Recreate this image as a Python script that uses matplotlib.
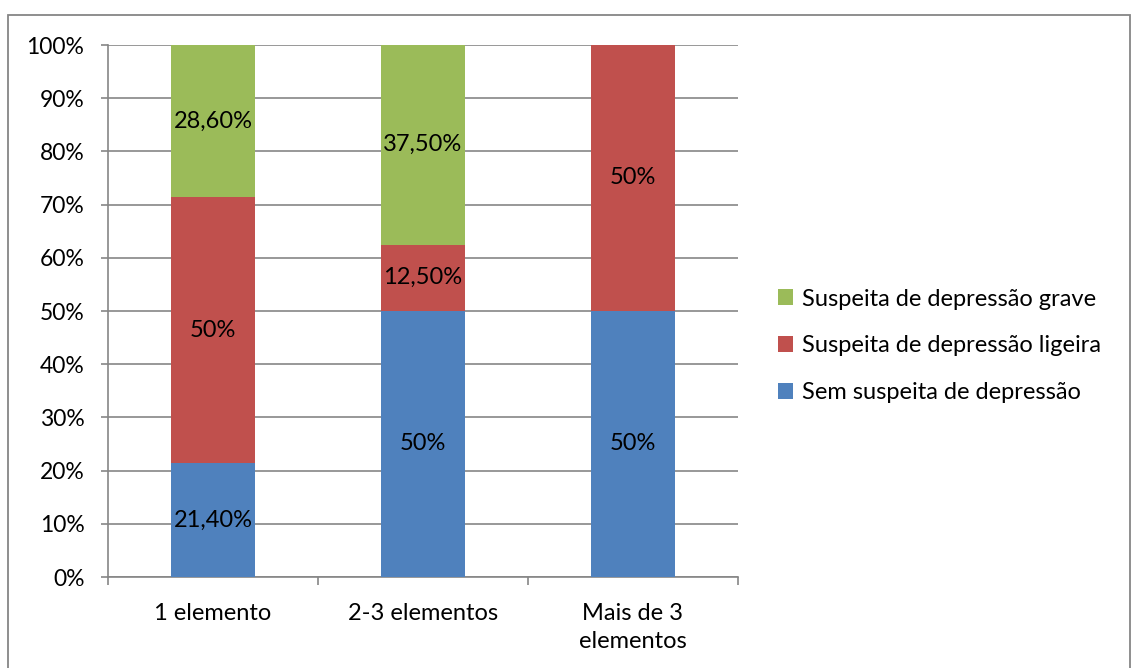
import matplotlib.pyplot as plt
import matplotlib.patches as mpatches
import numpy as np

plt.rcParams['font.family'] = ['Lato', 'DejaVu Sans']

categories = ['1 elemento', '2-3 elementos', 'Mais de 3\nelementos']
series_names = ['Sem suspeita de depressão', 'Suspeita de depressão ligeira', 'Suspeita de depressão grave']
sem = [21.4, 50.0, 50.0]
ligeira = [50.0, 12.5, 50.0]
grave = [28.6, 37.5, 0.0]
labels_sem = ['21,40%', '50%', '50%']
labels_lig = ['50%', '12,50%', '50%']
labels_grv = ['28,60%', '37,50%', '']
colors = ['#4F81BD', '#C0504D', '#9BBB59']

fs = 17

fig = plt.figure(figsize=(11.31, 6.68), dpi=100)
ax = fig.add_axes([108 / 1131, 91 / 668, 630 / 1131, 532 / 668])

# outer chart border
fig.patches.append(mpatches.Rectangle((8 / 1131, -0.1), 1122 / 1131, (653 / 668) + 0.1,
                                      transform=fig.transFigure, fill=False,
                                      edgecolor='#868686', linewidth=1.3))

x = np.arange(len(categories))
w = 0.4
bottom = np.zeros(len(categories))
for vals, labs, col, name in zip([sem, ligeira, grave], [labels_sem, labels_lig, labels_grv], colors, series_names):
    vals = np.array(vals)
    ax.bar(x, vals, w, bottom=bottom, color=col, label=name, zorder=3)
    for i in range(len(x)):
        if labs[i]:
            ax.text(x[i], bottom[i] + vals[i] / 2, labs[i], ha='center', va='center',
                    fontsize=fs, color='black', zorder=4)
    bottom = bottom + vals

ax.set_xlim(-0.5, len(categories) - 0.5)
ax.set_ylim(0, 100)
ax.set_yticks(np.arange(0, 101, 10))
ax.set_yticklabels([f'{v}%' for v in range(0, 101, 10)], fontsize=16.5)
ax.yaxis.grid(True, color='#868686', linewidth=1.2, zorder=0)
ax.set_axisbelow(True)

ax.set_xticks(x)
ax.set_xticklabels(categories, fontsize=fs, linespacing=1.4)
ax.tick_params(axis='x', length=0, pad=19)
ax.set_xticks(np.arange(-0.5, len(categories), 1), minor=True)
ax.tick_params(axis='x', which='minor', length=6, color='#868686', width=1.2)
ax.tick_params(axis='y', length=5, color='#868686', width=1.2, pad=12)

for s in ['top', 'right']:
    ax.spines[s].set_visible(False)
for s in ['left', 'bottom']:
    ax.spines[s].set_color('#868686')
    ax.spines[s].set_linewidth(1.2)

h, l = ax.get_legend_handles_labels()
fig.legend(h[::-1], l[::-1], loc='center left', bbox_to_anchor=(778 / 1131, 1 - 346 / 668),
           frameon=False, fontsize=fs, handlelength=0.65, handleheight=0.65,
           handletextpad=0.35, labelspacing=1.1, borderaxespad=0, borderpad=0)

fig.savefig('out.png', dpi=100)
